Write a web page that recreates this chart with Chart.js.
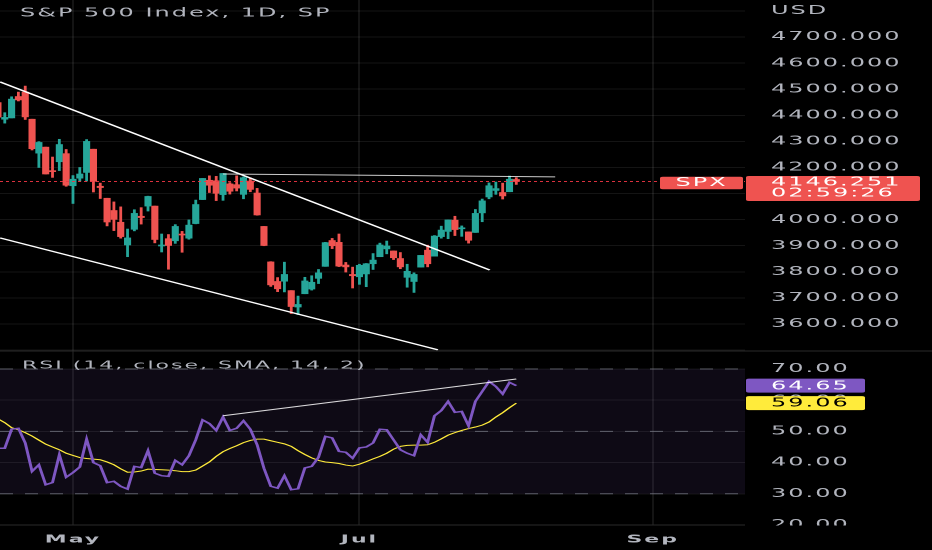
<!DOCTYPE html>
<html>
<head>
<meta charset="utf-8">
<title>S&amp;P 500 Index, 1D</title>
<script src="https://cdn.jsdelivr.net/npm/chart.js@4.4.1/dist/chart.umd.min.js"></script>
<style>
  html, body { margin: 0; padding: 0; background: #000; overflow: hidden; }
  #chart { display: block; }
</style>
</head>
<body>
<!-- the reference screenshot is stretched about 2x sideways, so the chart is
     laid out at half width and widened by the inline style -->
<canvas id="chart" width="466" height="550" style="width: 932px; height: 550px;"></canvas>
<script>
// daily bars, SPX 2022
const dates = [
  '2022-04-14', '2022-04-18', '2022-04-19', '2022-04-20', '2022-04-21', '2022-04-22', '2022-04-25', '2022-04-26',
  '2022-04-27', '2022-04-28', '2022-04-29', '2022-05-02', '2022-05-03', '2022-05-04', '2022-05-05', '2022-05-06',
  '2022-05-09', '2022-05-10', '2022-05-11', '2022-05-12', '2022-05-13', '2022-05-16', '2022-05-17', '2022-05-18',
  '2022-05-19', '2022-05-20', '2022-05-23', '2022-05-24', '2022-05-25', '2022-05-26', '2022-05-27', '2022-05-31',
  '2022-06-01', '2022-06-02', '2022-06-03', '2022-06-06', '2022-06-07', '2022-06-08', '2022-06-09', '2022-06-10',
  '2022-06-13', '2022-06-14', '2022-06-15', '2022-06-16', '2022-06-17', '2022-06-21', '2022-06-22', '2022-06-23',
  '2022-06-24', '2022-06-27', '2022-06-28', '2022-06-29', '2022-06-30', '2022-07-01', '2022-07-05', '2022-07-06',
  '2022-07-07', '2022-07-08', '2022-07-11', '2022-07-12', '2022-07-13', '2022-07-14', '2022-07-15', '2022-07-18',
  '2022-07-19', '2022-07-20', '2022-07-21', '2022-07-22', '2022-07-25', '2022-07-26', '2022-07-27', '2022-07-28',
  '2022-07-29', '2022-08-01', '2022-08-02', '2022-08-03', '2022-08-04'
];
const open = [
  4449, 4385, 4390, 4472, 4489, 4385, 4255, 4278, 4187, 4222, 4253, 4130, 4159, 4181, 4270, 4128,
  4082, 4035, 3990, 3903, 3963, 4013, 4052, 4052, 3899, 3927, 3919, 3943, 3929, 3985, 4077, 4151,
  4149, 4096, 4137, 4134, 4097, 4148, 4102, 3974, 3838, 3763, 3764, 3728, 3665, 3716, 3734, 3775,
  3821, 3920, 3913, 3826, 3790, 3781, 3792, 3831, 3858, 3888, 3880, 3851, 3779, 3763, 3818, 3883,
  3860, 3935, 3955, 3998, 3965, 3953, 3951, 4026, 4087, 4112, 4104, 4107, 4154
];
const high = [
  4452, 4410, 4471, 4489, 4512, 4385, 4299, 4278, 4240, 4308, 4269, 4169, 4200, 4307, 4270, 4140,
  4082, 4068, 4049, 3964, 4038, 4046, 4090, 4052, 3945, 3943, 3981, 3955, 3999, 4075, 4158, 4168,
  4166, 4177, 4142, 4168, 4164, 4160, 4120, 3974, 3839, 3778, 3837, 3728, 3707, 3779, 3785, 3809,
  3913, 3928, 3945, 3836, 3818, 3829, 3832, 3870, 3910, 3918, 3880, 3874, 3829, 3796, 3863, 3902,
  3939, 3975, 3999, 4013, 3976, 3953, 4039, 4079, 4141, 4144, 4140, 4167, 4161
];
const low = [
  4392, 4370, 4390, 4455, 4384, 4267, 4200, 4175, 4162, 4188, 4128, 4062, 4147, 4148, 4106, 4081,
  3976, 3958, 3929, 3858, 3957, 3983, 4033, 3911, 3876, 3810, 3909, 3875, 3925, 3984, 4077, 4104,
  4073, 4074, 4098, 4110, 4080, 4107, 4017, 3900, 3744, 3724, 3723, 3640, 3636, 3716, 3730, 3755,
  3821, 3889, 3820, 3799, 3738, 3752, 3743, 3809, 3858, 3869, 3847, 3812, 3741, 3721, 3818, 3819,
  3860, 3929, 3927, 3939, 3936, 3910, 3951, 3992, 4080, 4097, 4079, 4107, 4135
];
const close = [
  4393, 4392, 4462, 4459, 4394, 4272, 4296, 4175, 4184, 4288, 4132, 4155, 4175, 4300, 4147, 4123,
  3991, 4001, 3935, 3930, 4024, 4008, 4089, 3924, 3901, 3901, 3974, 3941, 3979, 4058, 4158, 4132,
  4101, 4177, 4109, 4121, 4161, 4116, 4018, 3901, 3750, 3735, 3790, 3667, 3675, 3765, 3760, 3796,
  3912, 3900, 3822, 3819, 3785, 3825, 3831, 3845, 3903, 3899, 3854, 3819, 3802, 3790, 3863, 3831,
  3937, 3960, 3999, 3962, 3967, 3921, 4024, 4072, 4130, 4119, 4091, 4155, 4146.25
];
const rsi = [
  44.6, 44.6, 50.7, 51.0, 46.3, 37.2, 39.3, 32.9, 33.6, 42.5, 35.3, 36.8, 38.6, 47.5, 40.0, 39.0,
  33.6, 34.0, 32.4, 31.5, 38.8, 38.4, 43.8, 36.6, 35.8, 35.6, 40.7, 39.3, 42.2, 47.3, 53.7, 52.5,
  50.3, 54.6, 50.3, 51.0, 53.4, 50.7, 45.7, 38.2, 32.4, 31.8, 35.8, 31.3, 31.6, 38.3, 38.8, 41.7,
  48.4, 47.9, 43.6, 43.3, 41.4, 44.7, 45.0, 46.3, 50.7, 50.5, 47.3, 44.1, 43.0, 42.2, 48.9, 46.5,
  55.0, 56.7, 59.6, 56.1, 56.4, 51.8, 59.6, 62.8, 66.0, 64.4, 62.0, 65.7, 64.65
];
const rsiSma = [
  54.0, 52.8, 51.2, 50.5, 49.6, 48.5, 47.2, 45.9, 45.0, 44.1, 43.0, 42.3, 41.6, 41.3, 41.1, 40.9,
  40.2, 39.3, 38.0, 36.9, 37.0, 37.3, 37.9, 37.8, 37.7, 37.6, 37.4, 37.1, 37.1, 37.6, 38.9, 40.2,
  42.0, 43.5, 44.5, 45.4, 46.4, 47.1, 47.5, 47.5, 47.0, 46.5, 46.0, 45.2, 43.8, 42.6, 41.5, 40.7,
  40.2, 40.0, 39.7, 39.2, 38.9, 39.5, 40.3, 41.2, 42.0, 43.0, 44.3, 45.2, 45.5, 45.6, 45.6, 45.7,
  46.5, 47.6, 48.8, 49.6, 50.3, 50.9, 51.4, 52.0, 53.0, 54.6, 56.0, 57.6, 59.06
];

// hand drawn lines, [bar number, value] at each end
const channelTop = [[0.3, 4528], [72.1, 3807]];
const channelBottom = [[0.3, 3930], [64.5, 3501]];
const resistance = [[33, 4175], [81.7, 4164]];
const rsiTrend = [[33, 55.0], [76, 66.8]];

// axes
const monthLabels = ['May', 'Jul', 'Sep'];
const monthStart = [11, 53, 96]; // bar number of the first session (Sep is past the last bar)
const priceTicks = [3600, 3700, 3800, 3900, 4000, 4100, 4200, 4300, 4400, 4500, 4600, 4700];
const rsiTicks = [20, 30, 40, 50, 60, 70];
const rsiBand = [70, 50, 30];

const title = 'S&P 500 Index, 1D, SP';
const rsiTitle = 'RSI (14, close, SMA, 14, 2)';
const currency = 'USD';
const symbol = 'SPX';
const lastPrice = 4146.251;
const countdown = '02:59:26';

const xMin = 0.3, xMax = 109.53;
const upColor = '#26a69a';
const downColor = '#ef5350';
const gridColor = 'rgba(255, 255, 255, 0.08)';
const textColor = '#b2b5be';
const tickFont = { family: 'DejaVu Sans', size: 12 };

Chart.defaults.font.family = 'DejaVu Sans';
Chart.defaults.color = textColor;

const candleColor = close.map((c, i) => (c >= open[i] ? upColor : downColor));
const floating = (lo, hi) => dates.map((d, i) => ({ x: i, y: [lo[i], hi[i]] }));
const points = arr => arr.map(([x, y]) => ({ x, y }));
const series = arr => arr.map((y, i) => ({ x: i, y }));

const lineStyle = { type: 'line', pointRadius: 0, tension: 0, borderCapStyle: 'butt' };

const paneDecor = {
  id: 'paneDecor',
  beforeDraw(chart) {
    chart.ctx.letterSpacing = '1px';
  },
  beforeDatasetsDraw(chart) {
    const { ctx, chartArea } = chart;
    const r = chart.scales.rsi;
    const top = r.getPixelForValue(rsiBand[0]);
    const bottom = r.getPixelForValue(rsiBand[2]);
    ctx.save();
    ctx.fillStyle = 'rgba(126, 87, 194, 0.11)';
    ctx.fillRect(chartArea.left, top, chartArea.right - chartArea.left, bottom - top);
    ctx.strokeStyle = 'rgba(120, 123, 134, 0.75)';
    ctx.lineWidth = 1;
    ctx.setLineDash([6.5, 6]);
    rsiBand.forEach(v => {
      const y = r.getPixelForValue(v);
      ctx.beginPath();
      ctx.moveTo(chartArea.left, y);
      ctx.lineTo(chartArea.right, y);
      ctx.stroke();
    });
    ctx.restore();
  },
  afterDraw(chart) {
    const { ctx, chartArea } = chart;
    const y = chart.scales.y;
    const r = chart.scales.rsi;
    const lx = y.left + 13;
    ctx.save();

    // pane separators
    ctx.strokeStyle = '#2a2a2a';
    ctx.lineWidth = 1;
    ctx.beginPath();
    ctx.moveTo(0, r.top);
    ctx.lineTo(chart.width, r.top);
    ctx.moveTo(chartArea.left, r.bottom);
    ctx.lineTo(chartArea.right, r.bottom);
    ctx.stroke();

    // the 20.00 label is cut by the pane edge in the reference
    ctx.fillStyle = '#000';
    ctx.fillRect(y.left, r.bottom + 0.5, y.width, chart.height - r.bottom);

    ctx.textBaseline = 'middle';
    ctx.fillStyle = textColor;
    ctx.font = '12px "DejaVu Sans"';
    ctx.fillText(title, 10, 13.5);
    ctx.fillText(currency, lx, y.top + 11);
    ctx.font = '11px "DejaVu Sans"';
    ctx.fillText(rsiTitle, 11, r.top + 14.5);

    // last price tags
    ctx.font = '12px "DejaVu Sans"';
    const py = y.getPixelForValue(lastPrice);
    ctx.fillStyle = downColor;
    ctx.beginPath();
    ctx.roundRect(y.left + 0.5, py - 5.5, 87, 25, 1.5);
    ctx.fill();
    ctx.beginPath();
    ctx.roundRect(chartArea.right - 42.5, py - 4.8, 41.5, 12.6, 1.5);
    ctx.fill();
    ctx.fillStyle = '#fff';
    ctx.fillText(lastPrice.toFixed(3), lx, py + 0.8);
    ctx.fillText(countdown, lx, py + 11.8);
    ctx.textAlign = 'center';
    ctx.fillText(symbol, chartArea.right - 21.75, py + 1.5);
    ctx.textAlign = 'left';

    // last rsi values
    [[rsi[rsi.length - 1], '#7e57c2', '#fff'], [rsiSma[rsiSma.length - 1], '#ffeb3b', '#000']].forEach(([v, bg, fg]) => {
      const p = r.getPixelForValue(v);
      ctx.fillStyle = bg;
      ctx.beginPath();
      ctx.roundRect(y.left + 0.5, p - 7, 59.5, 14, 1.5);
      ctx.fill();
      ctx.fillStyle = fg;
      ctx.fillText(v.toFixed(2), lx, p + 0.5);
    });
    ctx.restore();
  }
};

const canvas = document.getElementById('chart');
new Chart(canvas, {
  type: 'bar',
  data: {
    datasets: [
      {
        // wicks
        data: floating(low, high),
        backgroundColor: candleColor,
        barThickness: 0.75,
        grouped: false,
        yAxisID: 'y',
        order: 6
      },
      {
        // bodies
        data: floating(open, close),
        backgroundColor: candleColor,
        barThickness: 2.9,
        minBarLength: 1,
        grouped: false,
        yAxisID: 'y',
        order: 5
      },
      {
        ...lineStyle,
        data: [{ x: xMin, y: lastPrice }, { x: xMax, y: lastPrice }],
        borderColor: 'rgba(242, 54, 69, 0.9)',
        borderWidth: 1,
        borderDash: [1.5, 1.5],
        yAxisID: 'y',
        order: 4
      },
      { ...lineStyle, data: points(channelTop), borderColor: '#ffffff', borderWidth: 1.3, yAxisID: 'y', order: 1 },
      { ...lineStyle, data: points(channelBottom), borderColor: '#ffffff', borderWidth: 1.3, yAxisID: 'y', order: 1 },
      { ...lineStyle, data: points(resistance), borderColor: 'rgba(255, 255, 255, 0.8)', borderWidth: 1.1, yAxisID: 'y', order: 1 },
      { ...lineStyle, data: series(rsiSma), borderColor: '#ffeb3b', borderWidth: 1, yAxisID: 'rsi', order: 3 },
      { ...lineStyle, data: series(rsi), borderColor: '#7e57c2', borderWidth: 1.5, yAxisID: 'rsi', order: 2 },
      { ...lineStyle, data: points(rsiTrend), borderColor: 'rgba(255, 255, 255, 0.85)', borderWidth: 1, yAxisID: 'rsi', order: 1 }
    ]
  },
  options: {
    responsive: false,
    devicePixelRatio: 2,
    animation: false,
    layout: { padding: 0 },
    plugins: {
      legend: { display: false },
      tooltip: { enabled: false }
    },
    scales: {
      x: {
        type: 'linear',
        min: xMin,
        max: xMax,
        offset: false,
        grid: { color: gridColor, drawTicks: false, offset: false },
        border: { display: false },
        ticks: {
          font: { family: 'DejaVu Sans', size: 11, weight: 'bold' },
          color: textColor,
          padding: 8,
          maxRotation: 0,
          autoSkip: false,
          callback: (v, i) => monthLabels[i]
        },
        afterBuildTicks: s => { s.ticks = monthStart.map(v => ({ value: v })); },
        afterFit: s => { s.height = 25; s.paddingLeft = 0; s.paddingRight = 0; }
      },
      y: {
        type: 'linear',
        position: 'right',
        stack: 'pane',
        stackWeight: 351,
        min: 3496.5,
        max: 4842,
        grid: { color: gridColor, drawTicks: false },
        border: { display: false },
        ticks: {
          stepSize: 100,
          includeBounds: false,
          autoSkip: false,
          font: tickFont,
          color: textColor,
          padding: 13,
          callback: v => (priceTicks.includes(v) ? v.toFixed(3) : '')
        },
        afterFit: s => { s.width = 93.5; s.paddingTop = 0; s.paddingBottom = 0; }
      },
      rsi: {
        type: 'linear',
        position: 'right',
        stack: 'pane',
        stackWeight: 174,
        min: 20,
        max: 75.76,
        grid: { color: gridColor, drawTicks: false },
        border: { display: false },
        ticks: {
          stepSize: 10,
          includeBounds: false,
          autoSkip: false,
          font: tickFont,
          color: textColor,
          padding: 13,
          callback: v => (rsiTicks.includes(v) ? v.toFixed(2) : '')
        },
        afterFit: s => { s.width = 93.5; s.paddingTop = 0; s.paddingBottom = 0; }
      }
    }
  },
  plugins: [paneDecor]
});
// chart.js may write its own size into the style, stretch it back
canvas.style.width = '932px';
canvas.style.height = '550px';
</script>
</body>
</html>
